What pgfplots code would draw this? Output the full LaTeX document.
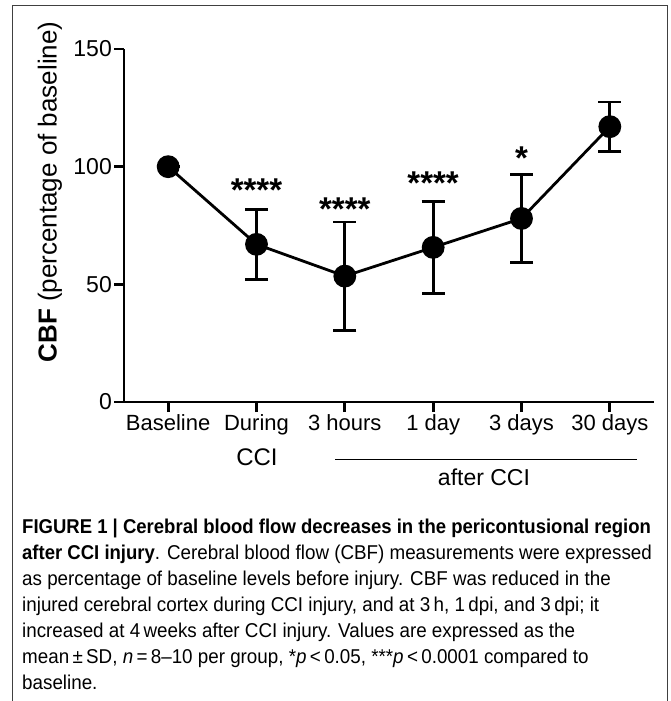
\documentclass[border=0pt]{standalone}
\usepackage{fontspec}
\setmainfont{Liberation Sans}
\newfontfamily\capfont[FakeStretch=0.94, BoldFeatures={FakeStretch=0.926}, ItalicFeatures={FakeStretch=0.94}]{Liberation Sans}
\usepackage{pgfplots}
\pgfplotsset{compat=1.18}
\pgfplotstableread{
x y e
0 100 0
1 67 14.8
2 53.5 23
3 65.7 19.5
4 78 18.8
5 117 10.5
}\cbf
\begin{document}
\begin{tikzpicture}[x=1pt,y=1pt]
\begin{axis}[
  at={(124pt,-402pt)}, anchor=south west,
  scale only axis, width=530pt, height=353pt,
  xmin=-0.5, xmax=5.5, ymin=0, ymax=150,
  axis x line*=bottom, axis y line*=left,
  axis line style={line width=2.8pt, black},
  xtick={0,...,5},
  xticklabels={Baseline,During,3 hours,1 day,3 days,30 days},
  ytick={0,50,100,150},
  tick align=outside, major tick length=10pt,
  tick style={line width=2.8pt, black},
  x tick label style={font=\fontsize{22}{26}\selectfont, inner sep=2pt},
  y tick label style={font=\fontsize{23}{27}\selectfont, inner sep=2pt},
  /pgf/number format/assume math mode=true,
  clip=false,
]
\addplot[black, line width=2.8pt, mark=*, mark size=10pt,
  error bars/.cd, y dir=both, y explicit,
  error bar style={line width=2.8pt, black},
  error mark options={rotate=90, line width=2.8pt, black, mark size=11.5pt}]
  table[x=x, y=y, y error=e] {\cbf};
\node[anchor=base, font=\bfseries\fontsize{33}{36}\selectfont] at (axis cs:1,85) {****};
\node[anchor=base, font=\bfseries\fontsize{33}{36}\selectfont] at (axis cs:2,77) {****};
\node[anchor=base, font=\bfseries\fontsize{33}{36}\selectfont] at (axis cs:3,88) {****};
\node[anchor=base, font=\bfseries\fontsize{33}{36}\selectfont] at (axis cs:4,98.6) {*};
\end{axis}
% group labels under the axis
\node[anchor=base, inner sep=0, font=\fontsize{24}{28}\selectfont] at (257,-465) {CCI};
\draw[line width=1.2pt] (335,-459.5) -- (637,-459.5);
\node[anchor=base, inner sep=0, font=\fontsize{23}{27}\selectfont] at (484,-485) {after CCI};
% y label
\node[rotate=90, inner sep=0, font=\fontsize{26}{30}\selectfont] at (50,-192) {\textbf{CBF} (percentage of baseline)};
% frame
\draw[line width=1pt, black!75] (12,-701) -- (12,-6) -- (667,-6) -- (667,-701);
% caption
\begin{scope}[every node/.style={anchor=base west, inner sep=0, font=\capfont\fontsize{20}{24}\selectfont}]
\node at (22,-533) {\bfseries FIGURE 1 | Cerebral blood flow decreases in the pericontusional region};
\node at (22,-559) {\textbf{after CCI injury}. Cerebral blood flow (CBF) measurements were expressed};
\node at (22,-585) {as percentage of baseline levels before injury. CBF was reduced in the};
\node at (22,-611) {injured cerebral cortex during CCI injury, and at 3\,h, 1\,dpi, and 3\,dpi; it};
\node at (22,-637) {increased at 4\,weeks after CCI injury. Values are expressed as the};
\node at (22,-663) {mean\,±\,SD, \textit{n}\,=\,8–10 per group, *\textit{p}\,<\,0.05, ***\textit{p}\,<\,0.0001 compared to};
\node at (22,-689) {baseline.};
\end{scope}
\pgfresetboundingbox
\path[use as bounding box] (0,0) rectangle (671,-701);
\end{tikzpicture}
\end{document}
